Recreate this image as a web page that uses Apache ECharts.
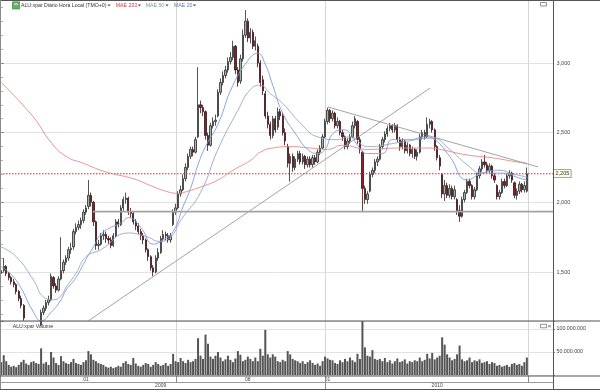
<!DOCTYPE html>
<html><head><meta charset="utf-8">
<script src="https://cdn.jsdelivr.net/npm/echarts@6/dist/echarts.min.js"></script>
<style>html,body{margin:0;padding:0;background:#fff}#c{width:600px;height:390px}</style>
</head><body><div id="c"></div>
<script>
// ---------- data ----------
const slotCount = 222; // candle slots on the time axis (last ones are empty)
const opens = [
1.49,1.51,1.54,1.49,1.46,1.43,1.41,1.36,1.31,1.26,
1.14,1.11,1.09,1.06,1.09,1.06,1.12,1.21,1.24,1.28,
1.30,1.46,1.40,1.37,1.45,1.51,1.57,1.60,1.66,1.68,
1.79,1.82,1.84,1.87,1.93,1.97,2.05,2.00,1.86,1.69,
1.70,1.76,1.77,1.74,1.73,1.69,1.76,1.86,1.84,1.96,
2.02,2.03,1.93,1.92,1.86,1.83,1.79,1.76,1.73,1.66,
1.61,1.53,1.50,1.60,1.64,1.74,1.77,1.76,1.73,1.84,
1.93,1.96,2.06,2.09,2.17,2.25,2.33,2.38,2.36,2.47,
2.70,2.68,2.65,2.48,2.41,2.55,2.58,2.62,2.79,2.86,
2.91,2.95,3.01,3.04,3.12,2.95,2.87,3.03,3.20,3.30,
3.18,3.22,3.12,3.12,3.00,2.88,2.78,2.62,2.56,2.48,
2.60,2.54,2.65,2.62,2.50,2.40,2.28,2.33,2.25,2.31,
2.35,2.29,2.33,2.27,2.31,2.27,2.32,2.29,2.36,2.39,
2.47,2.58,2.66,2.60,2.64,2.55,2.58,2.50,2.47,2.40,
2.44,2.47,2.55,2.58,2.45,2.36,2.10,2.02,2.08,2.20,
2.23,2.29,2.31,2.40,2.45,2.49,2.53,2.55,2.52,2.55,
2.45,2.40,2.44,2.37,2.41,2.35,2.38,2.33,2.36,2.47,
2.50,2.47,2.56,2.58,2.52,2.40,2.32,2.20,2.06,2.12,
2.05,2.10,2.04,2.02,1.94,1.90,2.02,2.07,2.15,2.12,
2.04,2.09,2.19,2.24,2.29,2.27,2.23,2.26,2.19,2.12,
2.04,2.07,2.15,2.12,2.19,2.21,2.14,2.05,2.08,2.13,
2.09,2.08];
const closes = [
1.51,1.54,1.49,1.46,1.43,1.41,1.36,1.31,1.26,1.17,
1.11,1.09,1.06,1.09,1.06,1.11,1.21,1.24,1.28,1.30,
1.47,1.40,1.37,1.45,1.51,1.57,1.60,1.66,1.67,1.79,
1.82,1.84,1.87,1.93,1.96,2.05,2.00,1.86,1.69,1.70,
1.76,1.77,1.74,1.73,1.69,1.76,1.86,1.84,1.96,2.02,
2.03,1.93,1.92,1.86,1.83,1.79,1.76,1.73,1.66,1.61,
1.53,1.50,1.60,1.64,1.74,1.77,1.76,1.73,1.76,1.93,
1.96,2.06,2.09,2.17,2.25,2.33,2.38,2.36,2.45,2.70,
2.68,2.65,2.48,2.41,2.55,2.58,2.59,2.79,2.86,2.91,
2.95,3.01,3.04,3.12,2.95,2.86,3.03,3.20,3.30,3.18,
3.22,3.12,3.16,3.00,2.86,2.80,2.62,2.56,2.48,2.60,
2.52,2.65,2.62,2.50,2.44,2.28,2.33,2.25,2.31,2.35,
2.29,2.33,2.27,2.31,2.27,2.32,2.29,2.36,2.39,2.47,
2.58,2.66,2.60,2.64,2.55,2.58,2.50,2.47,2.40,2.44,
2.47,2.55,2.60,2.45,2.38,2.10,2.02,2.06,2.20,2.23,
2.29,2.31,2.40,2.45,2.49,2.53,2.55,2.52,2.55,2.45,
2.40,2.44,2.37,2.41,2.35,2.38,2.33,2.36,2.47,2.50,
2.47,2.56,2.58,2.52,2.40,2.32,2.26,2.06,2.12,2.05,
2.10,2.04,2.09,1.94,1.90,2.02,2.07,2.15,2.12,2.04,
2.09,2.19,2.24,2.29,2.27,2.23,2.26,2.19,2.16,2.04,
2.07,2.15,2.12,2.19,2.21,2.16,2.05,2.08,2.13,2.09,
2.12,2.205];
const lows = [
1.47,1.50,1.47,1.44,1.41,1.39,1.34,1.29,1.24,1.15,
1.09,1.07,1.04,1.05,1.04,1.05,1.11,1.19,1.22,1.26,
1.29,1.38,1.35,1.36,1.44,1.49,1.55,1.58,1.63,1.66,
1.77,1.80,1.81,1.85,1.91,1.95,1.97,1.83,1.66,1.66,
1.69,1.73,1.71,1.70,1.67,1.68,1.75,1.82,1.83,1.94,
1.99,1.91,1.89,1.84,1.80,1.77,1.73,1.70,1.64,1.58,
1.51,1.47,1.49,1.58,1.63,1.72,1.73,1.71,1.71,1.83,
1.91,1.95,2.04,2.08,2.15,2.23,2.31,2.33,2.35,2.46,
2.64,2.62,2.45,2.37,2.40,2.53,2.55,2.61,2.77,2.84,
2.89,2.93,2.99,3.02,2.92,2.83,2.85,3.01,3.18,3.15,
3.14,3.10,3.09,2.97,2.83,2.77,2.60,2.53,2.45,2.46,
2.50,2.52,2.59,2.48,2.41,2.25,2.15,2.22,2.23,2.29,
2.27,2.27,2.24,2.25,2.25,2.25,2.27,2.28,2.34,2.38,
2.46,2.56,2.57,2.58,2.53,2.53,2.48,2.44,2.38,2.38,
2.42,2.46,2.53,2.42,2.35,1.93,1.99,1.99,2.07,2.18,
2.21,2.26,2.30,2.38,2.43,2.47,2.51,2.50,2.50,2.43,
2.37,2.38,2.35,2.35,2.33,2.32,2.31,2.30,2.35,2.45,
2.45,2.46,2.53,2.50,2.37,2.30,2.23,2.03,2.01,2.03,
2.03,2.02,2.02,1.91,1.86,1.89,2.00,2.06,2.10,2.02,
2.02,2.08,2.17,2.22,2.25,2.21,2.21,2.17,2.14,2.02,
2.02,2.06,2.10,2.11,2.17,2.14,2.03,2.02,2.06,2.07,
2.07,2.07];
const highs = [
1.53,1.60,1.55,1.50,1.47,1.45,1.42,1.37,1.33,1.27,
1.14,1.13,1.10,1.11,1.10,1.14,1.23,1.26,1.30,1.33,
1.49,1.47,1.42,1.47,1.75,1.59,1.62,1.68,1.71,1.81,
1.85,1.87,1.89,1.95,1.98,2.16,2.07,2.01,1.87,1.73,
1.78,1.80,1.79,1.76,1.75,1.78,1.88,1.88,1.98,2.04,
2.07,2.04,1.96,1.93,1.88,1.85,1.81,1.78,1.74,1.67,
1.62,1.55,1.62,1.67,1.76,1.80,1.79,1.78,1.78,1.95,
1.99,2.08,2.12,2.20,2.28,2.35,2.40,2.40,2.47,2.97,
2.73,2.70,2.66,2.50,2.57,2.61,2.63,2.81,2.89,2.94,
2.98,3.04,3.08,3.16,3.13,2.97,3.06,3.24,3.38,3.32,
3.25,3.24,3.19,3.14,3.02,2.91,2.80,2.65,2.58,2.62,
2.62,2.68,2.67,2.64,2.53,2.42,2.35,2.35,2.33,2.37,
2.37,2.35,2.34,2.33,2.33,2.34,2.34,2.38,2.41,2.49,
2.60,2.68,2.67,2.66,2.65,2.61,2.59,2.52,2.48,2.46,
2.49,2.58,2.62,2.59,2.47,2.37,2.12,2.08,2.22,2.25,
2.31,2.33,2.42,2.47,2.51,2.55,2.57,2.56,2.57,2.56,
2.47,2.46,2.45,2.43,2.42,2.40,2.39,2.38,2.49,2.52,
2.52,2.61,2.60,2.59,2.53,2.41,2.34,2.21,2.16,2.14,
2.13,2.12,2.12,2.03,1.98,2.04,2.09,2.17,2.17,2.13,
2.11,2.21,2.26,2.31,2.34,2.29,2.28,2.27,2.21,2.13,
2.09,2.17,2.17,2.21,2.23,2.22,2.15,2.10,2.15,2.14,
2.15,2.25];
// volume in millions of shares
const volumesM = [
28,43,30,22,18,20,17,22,28,33,
25,22,28,30,26,24,58,25,28,22,
50,38,26,22,41,30,26,24,28,35,
26,24,22,28,32,52,45,33,30,26,
24,22,18,16,18,15,17,20,18,26,
30,24,22,37,25,20,18,22,26,24,
18,22,28,24,20,22,26,20,24,46,
30,28,37,30,26,33,28,30,35,80,
42,35,88,68,40,35,42,50,38,30,
34,42,33,28,36,52,44,30,33,40,
35,30,38,30,57,42,98,45,38,45,
40,30,28,33,30,52,45,35,32,30,
26,30,24,28,32,26,22,25,20,30,
40,36,33,32,26,24,32,28,35,30,
38,32,28,46,35,125,60,42,40,54,
35,33,35,30,37,28,32,25,30,36,
28,30,34,25,30,28,32,30,38,30,
33,46,36,48,34,38,42,82,66,45,
38,32,35,45,64,34,30,32,38,28,
32,30,34,26,28,30,24,28,26,20,
22,18,20,22,18,24,26,22,24,20,
28,38];
// moving averages (position on the candle index axis, value)
const ma233Idx = [0,13,20,26,33,40,46,53,60,66,71,75,80,87,93,100,104,109,116,124,131,137,147,160,171,176,187,197,207,211];
const ma233Val = [2.86,2.61,2.43,2.33,2.28,2.23,2.20,2.17,2.12,2.08,2.065,2.08,2.11,2.16,2.23,2.30,2.36,2.39,2.40,2.39,2.38,2.41,2.38,2.39,2.39,2.38,2.34,2.32,2.29,2.28];
const ma50Idx = [0,6,13,17,21,24,26,30,34,40,51,59,63,68,72,80,87,95,100,104,108,113,120,127,135,140,147,160,173,180,187,193,200,211];
const ma50Val = [1.68,1.61,1.44,1.32,1.30,1.33,1.39,1.49,1.61,1.66,1.78,1.75,1.72,1.75,1.87,2.07,2.38,2.66,2.81,2.84,2.78,2.71,2.57,2.47,2.45,2.47,2.40,2.43,2.46,2.38,2.27,2.21,2.21,2.18];
const ma20Idx = [0,6,13,16,20,24,26,30,34,37,40,44,48,51,56,61,65,69,73,76,79,82,87,93,100,103,106,109,113,119,123,127,130,133,137,140,143,147,153,157,164,170,174,180,187,193,200,207,211];
const ma20Val = [1.54,1.44,1.21,1.15,1.21,1.30,1.37,1.46,1.59,1.68,1.77,1.82,1.85,1.89,1.82,1.70,1.73,1.79,1.97,2.10,2.27,2.40,2.56,2.84,3.04,3.07,2.99,2.84,2.64,2.47,2.38,2.35,2.38,2.49,2.52,2.50,2.41,2.35,2.35,2.45,2.45,2.47,2.45,2.33,2.16,2.21,2.23,2.18,2.16];
// drawn trendlines (index, price)
const supportIdx = [35, 172.1];  const supportVal = [1.15, 2.82];
const resistIdx  = [131.2, 215.5]; const resistVal = [2.684, 2.254];
const floorIdx   = [36.8, 221.5]; const floorVal  = [1.933, 1.933];
const lastPrice = 2.205;
// time axis labels
const monthTickIdx = [34, 99, 131]; const monthTickText = ['01', '08', '01'];
const yearTickIdx  = [64, 175];     const yearTickText  = ['2009', '2010'];
const monthSepIdx = [70, 130, 211.5]; const yearSepIdx = [130];

// ---------- chart ----------
const FONT = '"Liberation Sans", Arial, sans-serif';
const cats = Array.from({length: slotCount}, (_, i) => String(i));
const candleData = closes.map((c, i) => [opens[i], c, lows[i], highs[i]]);
const pairs = (xs, ys) => xs.map((x, k) => [x, ys[k]]);
const isMult = (v, s) => Math.abs(v / s - Math.round(v / s)) < 1e-6;
const dots = v => String(Math.round(v)).replace(/\B(?=(\d{3})+(?!\d))/g, '.');
const fmtPrice = v => v.toFixed(3).replace('.', ',');
const VOL_MAX = 117e6;

const lineS = (name, data, color, width, smooth) => ({
  name, type: 'line', xAxisIndex: 1, yAxisIndex: 0, data, symbol: 'none',
  smooth: smooth || false, silent: true,
  lineStyle: {color, width}, z: 3
});

const lastLine = lineS('last', [[-0.5, lastPrice], [slotCount - 0.5, lastPrice]], '#d42a2a', 1);
lastLine.lineStyle.type = [1.5, 1.5];
lastLine.endLabel = {show: true, distance: 1, formatter: () => fmtPrice(lastPrice),
  fontSize: 5.5, color: '#333', fontFamily: FONT,
  backgroundColor: '#fbfbe6', borderColor: '#555', borderWidth: 0.6, padding: [1, 1.5, 0.5, 1.5]};

const option = {
  animation: false,
  backgroundColor: '#fff',
  textStyle: {fontFamily: FONT},
  grid: [
    {left: 0, right: 47, top: 0.3, height: 320.46},
    {left: 0, right: 47, top: 321.2, height: 53.8}
  ],
  xAxis: [
    {type: 'category', gridIndex: 0, data: cats, boundaryGap: true, show: false},
    {type: 'value', gridIndex: 0, min: -0.5, max: slotCount - 0.5, show: false},
    {type: 'category', gridIndex: 1, data: cats, boundaryGap: true,
      axisLine: {show: false}, axisTick: {show: false}, splitLine: {show: false},
      axisLabel: {interval: (i) => monthTickIdx.includes(i),
        formatter: (v) => { const k = monthTickIdx.indexOf(Number(v)); return k >= 0 ? monthTickText[k] : ''; },
        fontSize: 5, color: '#444', margin: 1.8, fontFamily: FONT}},
    {type: 'category', gridIndex: 1, data: cats, boundaryGap: true, position: 'bottom', offset: 6.8,
      axisLine: {show: false}, axisTick: {show: false}, splitLine: {show: false},
      axisLabel: {interval: (i) => yearTickIdx.includes(i),
        formatter: (v) => { const k = yearTickIdx.indexOf(Number(v)); return k >= 0 ? yearTickText[k] : ''; },
        fontSize: 5, color: '#444', margin: 1.8, fontFamily: FONT}}
  ],
  yAxis: [
    {type: 'value', gridIndex: 0, position: 'right', min: 1.15, max: 3.45,
      splitNumber: 5, minInterval: 0.5, maxInterval: 0.5,
      axisLine: {show: false},
      axisTick: {show: true, length: 2.5, lineStyle: {color: '#666', width: 0.8}},
      minorTick: {show: true, splitNumber: 5, length: 1.6, lineStyle: {color: '#777', width: 0.7}},
      splitLine: {show: true, lineStyle: {color: '#e2e2e2', width: 1}},
      axisLabel: {formatter: v => isMult(v, 0.5) && v > 1.2 && v < 3.4 ? fmtPrice(v) : '',
        fontSize: 5.5, color: '#444', margin: 3.5, fontFamily: FONT}},
    {type: 'value', gridIndex: 1, position: 'right', min: 0, max: VOL_MAX,
      splitNumber: 2, minInterval: 50e6, maxInterval: 50e6,
      axisLine: {show: false},
      axisTick: {show: true, length: 2, lineStyle: {color: '#666', width: 0.8}},
      splitLine: {show: true, lineStyle: {color: '#e2e2e2', width: 1}},
      axisLabel: {formatter: v => (v > 0 && v < VOL_MAX - 1) ? dots(v) : '',
        fontSize: 5.3, color: '#444', margin: 3.5, fontFamily: FONT}}
  ],
  series: [
    {name: 'ALU:xpar', type: 'candlestick', xAxisIndex: 0, yAxisIndex: 0, data: candleData,
      barWidth: 1.8, clip: true, silent: true, z: 2,
      itemStyle: {color: '#9fb4a5', color0: '#8a1f2c', borderColor: '#2b2b2b', borderColor0: '#3a1015', borderWidth: 0.8}},
    lastLine,
    lineS('MAE 233', pairs(ma233Idx, ma233Val), '#e08a8a', 0.9, 0.5),
    lineS('MAE 50', pairs(ma50Idx, ma50Val), '#9aa6c6', 0.9, 0.5),
    lineS('MAE 20', pairs(ma20Idx, ma20Val), '#7f9bd8', 0.9, 0.5),
    lineS('support', pairs(supportIdx, supportVal), '#8d8d8d', 0.8),
    lineS('resistance', pairs(resistIdx, resistVal), '#8d8d8d', 0.8),
    lineS('floor', pairs(floorIdx, floorVal), '#a3a3a3', 1.6),
    {name: 'Volume', type: 'bar', xAxisIndex: 2, yAxisIndex: 1,
      data: volumesM.map(v => v * 1e6), barWidth: 2, silent: true,
      itemStyle: {color: '#545454'}}
  ]
};

const chart = echarts.init(document.getElementById('c'), null, {renderer: 'canvas'});
chart.setOption(option);

// ---------- frame, header and date separators ----------
const px = v => chart.convertToPixel({xAxisIndex: 1}, v);
const L = (x1, y1, x2, y2, stroke, w) => ({type: 'line', silent: true, z: 50,
  shape: {x1, y1, x2, y2}, style: {stroke, lineWidth: w || 1}});
const T = (text, x, y, fill, size, align) => ({type: 'text', silent: true, z: 60,
  style: {text, x, y, fill, font: `${size}px ${FONT}`, align: align || 'left', verticalAlign: 'middle',
    textAlign: align || 'left', textVerticalAlign: 'middle'}});
const tri = (x) => ({type: 'polygon', silent: true, z: 60,
  shape: {points: [[x - 1.6, 4.6], [x + 1.6, 4.6], [x, 6.6]]}, style: {fill: '#555'}});

const g = [];
monthSepIdx.forEach(s => {
  const x = Math.round(px(s)) + 0.5;
  g.push(Object.assign(L(x, 0, x, 376, '#d6d6d6', 1), {z: 1}));
  g.push(L(x, 376, x, 382.5, '#8a8a8a', 1));
});
yearSepIdx.forEach(s => {
  const x = Math.round(px(s)) + 0.5;
  g.push(L(x, 382.5, x, 389.5, '#8a8a8a', 1));
});
g.push(
  L(0, 0.5, 600, 0.5, '#555', 1.2),
  L(0.5, 0, 0.5, 389.5, '#8a8a8a', 1),
  L(553.5, 0, 553.5, 390, '#555', 1),
  L(0, 321, 600, 321, '#555', 1.2),
  L(0, 376, 600, 376, '#555', 1.2),
  L(0, 382.5, 553, 382.5, '#9a9a9a', 1),
  L(0, 389.5, 600, 389.5, '#555', 1.2),
  {type: 'rect', silent: true, z: 60, shape: {x: 12.5, y: 1.8, width: 7, height: 7.2},
    style: {fill: '#5db162', stroke: '#2f7d35', lineWidth: 0.6}},
  {type: 'rect', silent: true, z: 61, shape: {x: 14, y: 3.5, width: 4, height: 1.2}, style: {fill: '#d8f0d8'}},
  T('ALU:xpar Diário Hora Local (TMO+0)', 21, 5.6, '#333', 5.2),
  tri(109),
  T('MAE 233', 115.7, 5.6, '#d23a3a', 5.2),
  tri(139.5),
  T('MAE 50', 145.7, 5.6, '#6e9f98', 5.2),
  tri(167),
  T('MAE 20', 174, 5.6, '#5a78c0', 5.2),
  tri(194.5),
  {type: 'rect', silent: true, z: 60, shape: {x: 540.5, y: 2.5, width: 6, height: 3.5},
    style: {fill: 'none', stroke: '#666', lineWidth: 0.7}},
  T('ALU:xpar Volume', 12.7, 326.2, '#333', 5.2),
  {type: 'rect', silent: true, z: 60, shape: {x: 540.5, y: 324.3, width: 6, height: 3.5},
    style: {fill: 'none', stroke: '#666', lineWidth: 0.7}},
  T('×', 549.5, 326.2, '#444', 6, 'center')
);
chart.setOption({graphic: g});
</script>
</body></html>
